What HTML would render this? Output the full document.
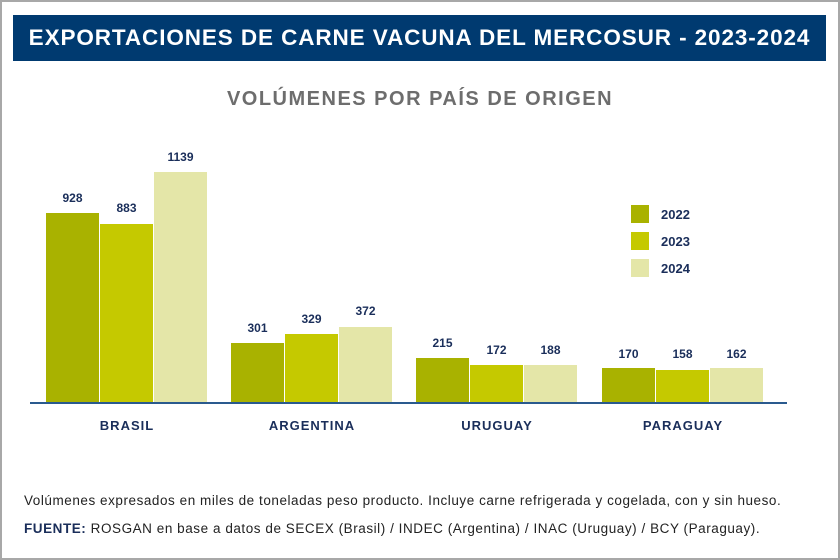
<!DOCTYPE html>
<html><head><meta charset="utf-8"><style>
body{margin:0;width:840px;height:560px;background:#fff;position:relative;overflow:hidden;font-family:"Liberation Sans",sans-serif}
.frame{position:absolute;left:0;top:0;width:836px;height:556px;border:2px solid #a8a8a8}
.title{position:absolute;left:13px;top:15px;width:813px;height:46px;background:#003a70;color:#fff;font-size:22.5px;font-weight:bold;line-height:46px;text-align:center;letter-spacing:0.9px;white-space:nowrap}
.sub{position:absolute;left:0;width:840px;top:88px;text-align:center;color:#6d6d6d;font-size:20px;font-weight:bold;letter-spacing:1.5px}
.b{position:absolute;width:53px}
.c1{background:#a9b200}.c2{background:#c5c900}.c3{background:#e4e6a8}
.v{position:absolute;width:53px;text-align:center;font-size:12px;font-weight:bold;color:#1a2e5a}
.cat{position:absolute;top:418px;width:160px;text-align:center;font-size:13px;font-weight:bold;color:#1a2e5a;letter-spacing:1px}
.base{position:absolute;left:30px;top:402px;width:757px;height:2px;background:#2a5a8e}
.lg{position:absolute;left:631px;width:18px;height:18px}
.lt{position:absolute;left:661px;font-size:13px;font-weight:bold;color:#1a2e5a}
.note{position:absolute;left:24px;font-size:13.5px;letter-spacing:0.55px;color:#222;white-space:nowrap}
</style></head><body>
<div class="frame"></div>
<div class="title">EXPORTACIONES DE CARNE VACUNA DEL MERCOSUR - 2023-2024</div>
<div class="sub">VOLÚMENES POR PAÍS DE ORIGEN</div>

<div class="b c1" style="left:46px;top:213px;height:189px"></div>
<div class="b c2" style="left:100px;top:224px;height:178px"></div>
<div class="b c3" style="left:154px;top:172px;height:230px"></div>
<div class="v" style="left:46px;top:191px">928</div>
<div class="v" style="left:100px;top:201px">883</div>
<div class="v" style="left:154px;top:150px">1139</div>

<div class="b c1" style="left:231px;top:343px;height:59px"></div>
<div class="b c2" style="left:285px;top:334px;height:68px"></div>
<div class="b c3" style="left:339px;top:327px;height:75px"></div>
<div class="v" style="left:231px;top:321px">301</div>
<div class="v" style="left:285px;top:312px">329</div>
<div class="v" style="left:339px;top:304px">372</div>

<div class="b c1" style="left:416px;top:358px;height:44px"></div>
<div class="b c2" style="left:470px;top:365px;height:37px"></div>
<div class="b c3" style="left:524px;top:365px;height:37px"></div>
<div class="v" style="left:416px;top:336px">215</div>
<div class="v" style="left:470px;top:343px">172</div>
<div class="v" style="left:524px;top:343px">188</div>

<div class="b c1" style="left:602px;top:368px;height:34px"></div>
<div class="b c2" style="left:656px;top:370px;height:32px"></div>
<div class="b c3" style="left:710px;top:368px;height:34px"></div>
<div class="v" style="left:602px;top:347px">170</div>
<div class="v" style="left:656px;top:347px">158</div>
<div class="v" style="left:710px;top:347px">162</div>

<div class="base"></div>
<div class="cat" style="left:47px">BRASIL</div>
<div class="cat" style="left:232px">ARGENTINA</div>
<div class="cat" style="left:417px">URUGUAY</div>
<div class="cat" style="left:603px">PARAGUAY</div>

<div class="lg c1" style="top:205px"></div><div class="lt" style="top:207px">2022</div>
<div class="lg c2" style="top:232px"></div><div class="lt" style="top:234px">2023</div>
<div class="lg c3" style="top:259px"></div><div class="lt" style="top:261px">2024</div>

<div class="note" style="top:493px">Volúmenes expresados en miles de toneladas peso producto. Incluye carne refrigerada y cogelada, con y sin hueso.</div>
<div class="note" style="top:521px"><b style="color:#1a2e5a">FUENTE:</b> ROSGAN en base a datos de SECEX (Brasil) / INDEC (Argentina) / INAC (Uruguay) / BCY (Paraguay).</div>
</body></html>
